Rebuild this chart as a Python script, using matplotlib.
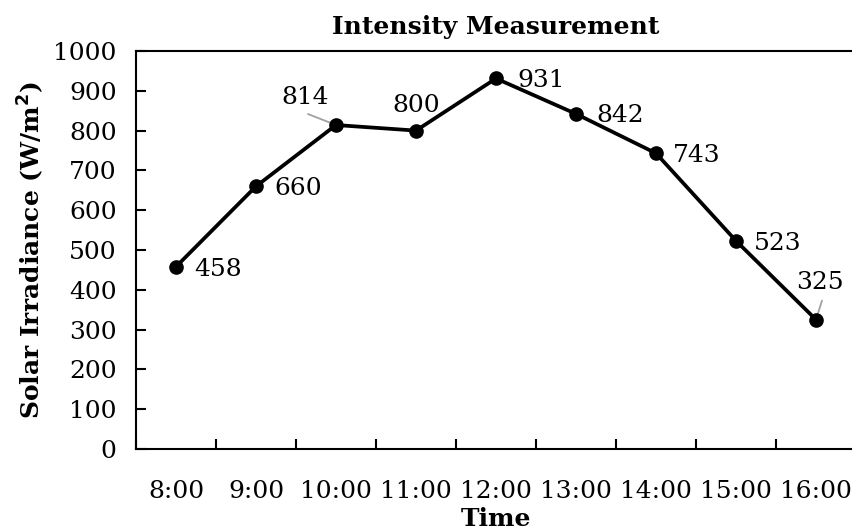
import numpy as np
from matplotlib import pyplot as plt

times = ["8:00", "9:00", "10:00", "11:00", "12:00", "13:00", "14:00", "15:00", "16:00"]
irradiance = [458, 660, 814, 800, 931, 842, 743, 523, 325]
# label offsets in pixels (dx, dy) from each point
offsets = [(42, -3), (42, -2), (-31, 28), (0, 25), (45, -2), (44, -2), (41, -2), (42, -3), (4, 37)]
# leader line start (pixels from point) for labels that have one
leaders = {2: (-28, 11), 8: (6, 19)}

plt.rcParams['font.family'] = ['DejaVu Serif']
fs = 18

fig = plt.figure(figsize=(8.53, 5.32), dpi=100)
ax = fig.add_axes([136 / 853, 1 - 449 / 532, 720 / 853, 398 / 532])

x = np.arange(len(times))
ax.plot(x, irradiance, color='black', lw=2.7, marker='o', ms=9.5, zorder=3)

for i, v in enumerate(irradiance):
    dx, dy = offsets[i]
    ax.annotate(str(v), (x[i], v), xytext=(dx, dy), textcoords='offset pixels',
                ha='center', va='center', fontsize=fs)
    if i in leaders:
        ax.annotate('', (x[i], v), xytext=leaders[i], textcoords='offset pixels',
                    arrowprops=dict(arrowstyle='-', color='#a0a0a0', lw=1.3,
                                    shrinkA=0, shrinkB=4), zorder=2)

ax.set_xlim(-0.5, len(times) - 0.5)
ax.set_ylim(0, 1000)
ax.set_yticks(np.arange(0, 1001, 100))
ax.set_xticks(x)
ax.set_xticklabels(times)
ax.set_xticks(np.arange(-0.5, len(times), 1), minor=True)
ax.tick_params(axis='x', which='major', length=0, labelsize=fs, pad=22)
ax.tick_params(axis='x', which='minor', direction='in', length=7, width=1.5)
ax.tick_params(axis='y', direction='in', length=7, width=1.5, labelsize=fs, pad=14)
for s in ax.spines.values():
    s.set_linewidth(1.5)

ax.set_title("Intensity Measurement", fontsize=fs, fontweight='bold', pad=12)
ax.set_xlabel("Time", fontsize=fs, fontweight='bold', labelpad=3)
ax.set_ylabel("Solar Irradiance (W/m$^{\\mathbf{2}}$)", fontsize=fs, fontweight='bold', labelpad=5)

fig.savefig("out.png", dpi=100)
